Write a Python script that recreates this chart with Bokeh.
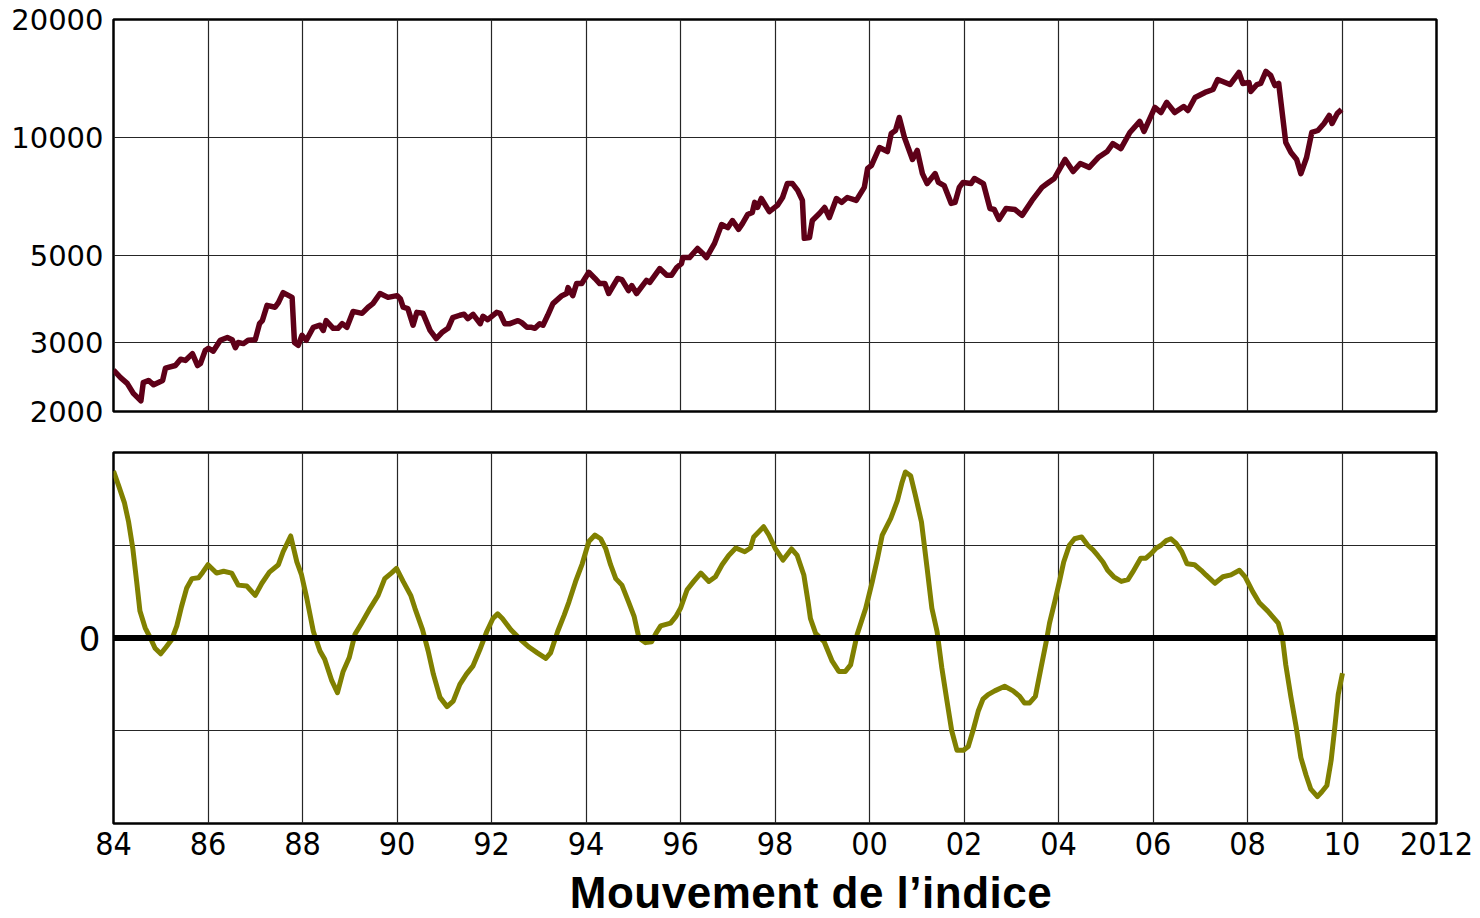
from bokeh.plotting import figure
from bokeh.layouts import column
from bokeh.models import Range1d, FixedTicker, PrintfTickFormatter, Span, Div
from bokeh.embed import file_html
from bokeh.resources import INLINE

# ---------------- data ----------------
index_years = [
    1984.00, 1984.15, 1984.29, 1984.42, 1984.58, 1984.63, 1984.74, 1984.85, 1985.04, 1985.10,
    1985.31, 1985.42, 1985.52, 1985.67, 1985.78, 1985.84, 1985.94, 1986.01, 1986.11, 1986.26,
    1986.41, 1986.51, 1986.58, 1986.64, 1986.75, 1986.85, 1987.00, 1987.09, 1987.15, 1987.25,
    1987.42, 1987.49, 1987.59, 1987.78, 1987.83, 1987.91, 1987.99, 1988.08, 1988.23, 1988.37,
    1988.44, 1988.50, 1988.65, 1988.75, 1988.84, 1988.94, 1989.07, 1989.26, 1989.39, 1989.49,
    1989.64, 1989.81, 1990.00, 1990.07, 1990.13, 1990.23, 1990.34, 1990.42, 1990.55, 1990.70,
    1990.83, 1990.95, 1991.08, 1991.18, 1991.33, 1991.42, 1991.50, 1991.61, 1991.76, 1991.82,
    1991.92, 1992.11, 1992.18, 1992.28, 1992.39, 1992.56, 1992.64, 1992.75, 1992.85, 1992.92,
    1993.02, 1993.09, 1993.19, 1993.30, 1993.49, 1993.59, 1993.62, 1993.72, 1993.80, 1993.91,
    1994.06, 1994.19, 1994.29, 1994.40, 1994.48, 1994.67, 1994.76, 1994.90, 1994.97, 1995.07,
    1995.28, 1995.35, 1995.56, 1995.71, 1995.81, 1995.92, 1996.02, 1996.05, 1996.19, 1996.36,
    1996.47, 1996.55, 1996.72, 1996.87, 1997.00, 1997.10, 1997.23, 1997.31, 1997.42, 1997.52,
    1997.57, 1997.63, 1997.71, 1997.88, 1998.05, 1998.16, 1998.26, 1998.37, 1998.48, 1998.58,
    1998.62, 1998.73, 1998.79, 1998.94, 1999.05, 1999.15, 1999.30, 1999.41, 1999.53, 1999.72,
    1999.89, 1999.96, 2000.04, 2000.21, 2000.38, 2000.46, 2000.55, 2000.63, 2000.74, 2000.91,
    2001.01, 2001.12, 2001.22, 2001.39, 2001.46, 2001.58, 2001.73, 2001.81, 2001.90, 2001.98,
    2002.15, 2002.22, 2002.41, 2002.55, 2002.64, 2002.74, 2002.89, 2003.08, 2003.23, 2003.44,
    2003.65, 2003.76, 2003.91, 2004.14, 2004.31, 2004.46, 2004.65, 2004.84, 2005.03, 2005.15,
    2005.32, 2005.51, 2005.72, 2005.81, 2006.04, 2006.17, 2006.29, 2006.46, 2006.65, 2006.74,
    2006.89, 2007.10, 2007.27, 2007.37, 2007.63, 2007.82, 2007.90, 2008.03, 2008.07, 2008.20,
    2008.28, 2008.39, 2008.49, 2008.58, 2008.66, 2008.81, 2008.92, 2009.04, 2009.13, 2009.25,
    2009.36, 2009.49, 2009.62, 2009.73, 2009.79, 2009.90, 2009.99,
]
index_values = [
    2550, 2440, 2360, 2225, 2130, 2370, 2400, 2340, 2400, 2580,
    2620, 2720, 2700, 2810, 2620, 2650, 2860, 2900, 2850, 3040,
    3090, 3050, 2910, 3000, 2980, 3040, 3050, 3350, 3410, 3730,
    3690, 3790, 4020, 3910, 3000, 2950, 3130, 3040, 3280, 3320,
    3220, 3410, 3260, 3260, 3350, 3280, 3600, 3560, 3690, 3770,
    4000, 3910, 3950, 3880, 3690, 3660, 3320, 3580, 3560, 3220,
    3070, 3180, 3260, 3470, 3520, 3540, 3450, 3540, 3350, 3500,
    3430, 3580, 3560, 3350, 3350, 3410, 3370, 3280, 3280, 3260,
    3350, 3320, 3520, 3770, 3950, 4000, 4140, 3950, 4240, 4240,
    4530, 4370, 4240, 4240, 4000, 4370, 4340, 4070, 4190, 4000,
    4320, 4270, 4630, 4450, 4450, 4660, 4770, 4940, 4940, 5210,
    5060, 4940, 5370, 6000, 5890, 6140, 5830, 6030, 6360, 6440,
    6830, 6630, 6990, 6470, 6710, 7030, 7630, 7630, 7330, 6910,
    5530, 5560, 6140, 6400, 6630, 6250, 6990, 6830, 7030, 6910,
    7460, 8340, 8480, 9430, 9210, 10240, 10420, 11250, 10000, 8790,
    9270, 8090, 7630, 8090, 7680, 7540, 6790, 6830, 7460, 7680,
    7630, 7860, 7630, 6590, 6550, 6180, 6590, 6550, 6330, 6910,
    7460, 7630, 7860, 8790, 8190, 8580, 8390, 8890, 9210, 9650,
    9370, 10300, 10990, 10360, 11930, 11580, 12290, 11580, 12000, 11720,
    12650, 13030, 13260, 14060, 13650, 14650, 13740, 13820, 13100, 13650,
    13740, 14740, 14400, 13570, 13740, 9710, 9160, 8790, 8090, 8890,
    10300, 10420, 10860, 11380, 10860, 11510, 11790,
]

move_years = [
    1984.00, 1984.11, 1984.23, 1984.32, 1984.41, 1984.49, 1984.56, 1984.67, 1984.78, 1984.88,
    1985.00, 1985.11, 1985.23, 1985.34, 1985.44, 1985.55, 1985.66, 1985.80, 1985.89, 1986.00,
    1986.18, 1986.33, 1986.50, 1986.64, 1986.82, 1987.00, 1987.14, 1987.30, 1987.49, 1987.59,
    1987.75, 1987.88, 1987.98, 1988.09, 1988.23, 1988.37, 1988.47, 1988.62, 1988.74, 1988.86,
    1988.99, 1989.11, 1989.25, 1989.43, 1989.60, 1989.74, 1989.88, 1989.99, 1990.13, 1990.29,
    1990.38, 1990.54, 1990.66, 1990.77, 1990.91, 1991.06, 1991.19, 1991.33, 1991.47, 1991.61,
    1991.75, 1991.90, 1992.03, 1992.13, 1992.23, 1992.41, 1992.62, 1992.80, 1992.97, 1993.15,
    1993.25, 1993.40, 1993.54, 1993.64, 1993.78, 1993.92, 1994.06, 1994.19, 1994.31, 1994.42,
    1994.52, 1994.63, 1994.76, 1994.90, 1995.02, 1995.12, 1995.26, 1995.39, 1995.48, 1995.58,
    1995.79, 1995.90, 1996.00, 1996.14, 1996.28, 1996.43, 1996.60, 1996.74, 1996.88, 1997.02,
    1997.17, 1997.36, 1997.48, 1997.55, 1997.76, 1997.87, 1998.01, 1998.17, 1998.35, 1998.47,
    1998.61, 1998.70, 1998.75, 1998.86, 1999.04, 1999.21, 1999.35, 1999.49, 1999.60, 1999.74,
    1999.92, 2000.06, 2000.17, 2000.27, 2000.45, 2000.59, 2000.69, 2000.76, 2000.87, 2000.97,
    2001.10, 2001.22, 2001.32, 2001.43, 2001.53, 2001.64, 2001.74, 2001.85, 2001.99, 2002.09,
    2002.19, 2002.30, 2002.40, 2002.51, 2002.65, 2002.86, 2003.04, 2003.18, 2003.28, 2003.39,
    2003.51, 2003.63, 2003.74, 2003.81, 2003.92, 2004.02, 2004.11, 2004.23, 2004.34, 2004.49,
    2004.62, 2004.73, 2004.83, 2004.94, 2005.04, 2005.17, 2005.33, 2005.47, 2005.57, 2005.74,
    2005.85, 2005.96, 2006.07, 2006.17, 2006.28, 2006.38, 2006.49, 2006.61, 2006.72, 2006.88,
    2007.02, 2007.12, 2007.31, 2007.48, 2007.65, 2007.83, 2007.95, 2008.04, 2008.11, 2008.25,
    2008.43, 2008.53, 2008.65, 2008.74, 2008.81, 2008.92, 2009.03, 2009.13, 2009.24, 2009.34,
    2009.48, 2009.57, 2009.68, 2009.77, 2009.84, 2009.92, 2010.01,
]
move_values = [
    1.80, 1.64, 1.46, 1.25, 0.96, 0.61, 0.29, 0.11, 0.00, -0.11,
    -0.17, -0.10, -0.02, 0.13, 0.34, 0.54, 0.64, 0.65, 0.71, 0.79,
    0.70, 0.72, 0.70, 0.57, 0.56, 0.46, 0.59, 0.71, 0.79, 0.93,
    1.10, 0.82, 0.68, 0.43, 0.07, -0.14, -0.23, -0.46, -0.59, -0.36,
    -0.21, 0.04, 0.16, 0.32, 0.46, 0.64, 0.70, 0.75, 0.61, 0.46,
    0.32, 0.09, -0.14, -0.39, -0.64, -0.74, -0.68, -0.50, -0.39, -0.30,
    -0.13, 0.07, 0.21, 0.26, 0.21, 0.09, -0.02, -0.10, -0.16, -0.22,
    -0.16, 0.07, 0.25, 0.39, 0.61, 0.80, 1.04, 1.11, 1.07, 0.96,
    0.79, 0.64, 0.57, 0.39, 0.23, 0.00, -0.05, -0.04, 0.05, 0.13,
    0.16, 0.23, 0.32, 0.52, 0.61, 0.70, 0.61, 0.66, 0.79, 0.89,
    0.97, 0.93, 0.97, 1.09, 1.20, 1.11, 0.96, 0.84, 0.96, 0.89,
    0.68, 0.39, 0.21, 0.05, -0.04, -0.25, -0.36, -0.36, -0.29, 0.04,
    0.32, 0.61, 0.86, 1.11, 1.29, 1.48, 1.68, 1.79, 1.75, 1.54,
    1.25, 0.75, 0.32, 0.07, -0.32, -0.68, -1.00, -1.21, -1.21, -1.17,
    -1.00, -0.79, -0.66, -0.61, -0.57, -0.52, -0.57, -0.63, -0.70, -0.70,
    -0.63, -0.32, -0.04, 0.16, 0.39, 0.61, 0.82, 1.00, 1.07, 1.09,
    1.00, 0.95, 0.89, 0.82, 0.73, 0.66, 0.61, 0.63, 0.71, 0.86,
    0.86, 0.91, 0.97, 1.00, 1.05, 1.07, 1.02, 0.93, 0.80, 0.79,
    0.73, 0.68, 0.59, 0.66, 0.68, 0.73, 0.66, 0.57, 0.50, 0.38,
    0.29, 0.23, 0.16, 0.00, -0.29, -0.64, -0.96, -1.29, -1.48, -1.63,
    -1.71, -1.66, -1.59, -1.32, -1.00, -0.61, -0.38,
]

x_ticks = [1984, 1986, 1988, 1990, 1992, 1994, 1996, 1998, 2000, 2002, 2004, 2006, 2008, 2010, 2012]
x_tick_labels = ["84", "86", "88", "90", "92", "94", "96", "98", "00", "02", "04", "06", "08", "10", "2012"]
index_ticks = [2000, 3000, 5000, 10000, 20000]
move_grid_ticks = [-1, 0, 1]
move_label_ticks = [0]
chart_title = "Mouvement de l\u2019indice"

# ---------------- styles ----------------
TOP_COLOR = "#5e0018"
BOT_COLOR = "#808000"
GRID_COLOR = "#262626"
W = 1480
NARROW = "'Liberation Sans Narrow', 'DejaVu Sans Condensed', 'Liberation Sans', sans-serif"


def style(p):
    p.outline_line_color = "black"
    p.outline_line_width = 2.5
    p.outline_line_alpha = 1.0
    p.background_fill_color = "white"
    p.border_fill_color = "white"
    for g in (p.xgrid, p.ygrid):
        g.grid_line_color = GRID_COLOR
        g.grid_line_width = 1.2
        g.grid_line_alpha = 1.0
    for ax in p.axis:
        ax.axis_line_color = None
        ax.major_tick_line_color = None
        ax.minor_tick_line_color = None
        ax.major_tick_out = 0
        ax.major_tick_in = 0
        ax.minor_tick_out = 0
        ax.major_label_text_color = "black"


# ---------------- top chart (log scale) ----------------
p1 = figure(width=W, height=431, x_range=Range1d(1984, 2012), y_range=Range1d(2000, 20000),
            y_axis_type="log", output_backend="svg", toolbar_location=None,
            min_border_left=113, min_border_right=44, min_border_top=19, min_border_bottom=20)
style(p1)
p1.xaxis.visible = False
p1.xgrid.ticker = FixedTicker(ticks=x_ticks)
p1.yaxis.ticker = FixedTicker(ticks=index_ticks)
p1.ygrid.ticker = FixedTicker(ticks=index_ticks)
p1.yaxis.formatter = PrintfTickFormatter(format="%d")
p1.yaxis.major_label_text_font = "DejaVu Sans"
p1.yaxis.major_label_text_font_size = "29px"
p1.yaxis.major_label_standoff = 10
p1.line(index_years, index_values, line_color=TOP_COLOR, line_width=5.5, line_join="round")

# ---------------- bottom chart ----------------
p2 = figure(width=W, height=437, x_range=Range1d(1984, 2012), y_range=Range1d(-2, 2),
            output_backend="svg", toolbar_location=None,
            min_border_left=113, min_border_right=44, min_border_top=21, min_border_bottom=45)
style(p2)
p2.xaxis.ticker = FixedTicker(ticks=x_ticks)
p2.xgrid.ticker = FixedTicker(ticks=x_ticks)
p2.xaxis.major_label_overrides = dict(zip(x_ticks, x_tick_labels))
p2.xaxis.major_label_text_font = NARROW
p2.xaxis.major_label_text_font_size = "32px"
p2.xaxis.major_label_standoff = 8
p2.yaxis.ticker = FixedTicker(ticks=move_label_ticks)
p2.ygrid.ticker = FixedTicker(ticks=move_grid_ticks)
p2.yaxis.major_label_text_font = "DejaVu Sans"
p2.yaxis.major_label_text_font_size = "34px"
p2.yaxis.major_label_standoff = 13

p2.line(move_years, move_values, line_color=BOT_COLOR, line_width=5, line_join="round")
p2.add_layout(Span(location=0, dimension="width", line_color="black", line_width=6))

title_div = Div(
    text=('<div style="display:block;box-sizing:border-box;width:1480px;padding-left:142px;'
          'text-align:center;white-space:nowrap;letter-spacing:0.5px;'
          'font-family:\'Liberation Sans\',Arial,sans-serif;font-weight:bold;'
          'font-size:44px;line-height:50px;color:black;">' + chart_title + '</div>'),
    width=W, height=50, margin=(0, 0, 0, 0))

layout = column(p1, p2, title_div, spacing=0)
open("out.html", "w").write(file_html(layout, INLINE))
